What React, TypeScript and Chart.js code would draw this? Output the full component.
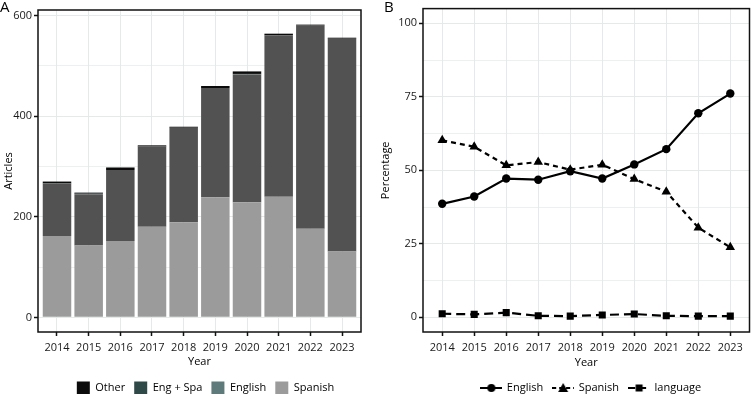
import React, { useEffect, useRef } from 'react';
import { Chart, registerables } from 'chart.js';
Chart.register(...registerables);

// ---------- data ----------
const years = [2014, 2015, 2016, 2017, 2018, 2019, 2020, 2021, 2022, 2023];
// Panel A: article counts (stacked)
const spanishCount = [162, 143, 152, 180, 189, 239, 229, 240, 176, 131];
const englishCount = [104, 102, 141, 160, 188, 217, 254, 321, 404, 423];
const engSpaCount = [1, 1, 0, 0, 0, 0, 1, 0, 0, 0];
const otherCount = [3, 2, 5, 2, 2, 4, 5, 3, 2, 2];
// Panel B: percentages
const englishPct = [38.6, 41.1, 47.2, 46.8, 49.7, 47.2, 52.0, 57.2, 69.4, 76.1];
const spanishPct = [60.2, 58.0, 51.7, 52.8, 50.2, 51.9, 47.0, 42.7, 30.5, 23.8];
const languagePct = [1.2, 1.0, 1.6, 0.5, 0.4, 0.8, 1.1, 0.5, 0.4, 0.4];

const FONT = "'Open Sans', 'DejaVu Sans', sans-serif";
const GRID = '#e4eaea';
const TXT = '#1a1a1a';

const panelBorder = {
  id: 'panelBorder',
  afterDraw(chart: any) {
    const { ctx, chartArea: a } = chart;
    ctx.save();
    ctx.strokeStyle = '#111';
    ctx.lineWidth = 1.5;
    ctx.strokeRect(a.left, a.top, a.right - a.left, a.bottom - a.top);
    ctx.restore();
  },
};

const legendCenter = (shift: number) => ({
  id: 'legendCenter',
  afterLayout(chart: any) {
    const l = chart.legend;
    const a = chart.chartArea;
    if (l && a) {
      l.left = a.left + shift;
      l.right = a.right + shift;
      l.width = a.right - a.left;
    }
  },
});

const pts = (vals: number[]) => years.map((y, i) => ({ x: y, y: vals[i] }));

function makeSymbol(dash: number[], style: string): HTMLCanvasElement {
  const c = document.createElement('canvas');
  c.width = 22;
  c.height = 12;
  const g = c.getContext('2d')!;
  g.strokeStyle = '#000';
  g.fillStyle = '#000';
  g.lineWidth = 2;
  g.setLineDash(dash);
  g.beginPath();
  g.moveTo(0, 6);
  g.lineTo(22, 6);
  g.stroke();
  g.setLineDash([]);
  g.beginPath();
  if (style === 'circle') {
    g.arc(11, 6, 4, 0, Math.PI * 2);
  } else if (style === 'triangle') {
    g.moveTo(11, 1);
    g.lineTo(16, 10);
    g.lineTo(6, 10);
    g.closePath();
  } else {
    g.rect(7.5, 2.5, 7, 7);
  }
  g.fill();
  return c;
}

function xAxis(height: number, stacked: boolean, titlePadBottom: number) {
  return {
    type: 'linear' as const,
    min: 2013.4,
    max: 2023.6,
    offset: false,
    stacked,
    grid: {
      offset: false,
      color: GRID,
      lineWidth: 1,
      drawTicks: true,
      tickLength: 4,
      tickColor: '#111',
      tickWidth: 1.5,
    },
    border: { display: false },
    ticks: {
      stepSize: 1,
      includeBounds: false,
      autoSkip: false,
      maxRotation: 0,
      padding: 5,
      color: TXT,
      font: { family: FONT, size: 11 },
      callback: (v: any) => String(v),
    },
    title: {
      display: true,
      text: 'Year',
      color: '#000',
      font: { family: FONT, size: 11 },
      padding: { top: 0, bottom: titlePadBottom },
    },
    afterFit: (s: any) => {
      s.height = height;
    },
  };
}

function yAxis(opts: {
  min: number;
  max: number;
  step: number;
  major: number;
  width: number;
  title: string;
  stacked: boolean;
}) {
  const isMajor = (v: number) => Math.abs(v % opts.major) < 1e-6;
  return {
    type: 'linear' as const,
    min: opts.min,
    max: opts.max,
    stacked: opts.stacked,
    grid: {
      color: GRID,
      lineWidth: (c: any) => (isMajor(c.tick.value) ? 1 : 0.7),
      drawTicks: true,
      tickLength: 4,
      tickColor: (c: any) => (isMajor(c.tick.value) ? '#111' : 'rgba(0,0,0,0)'),
      tickWidth: 1.5,
    },
    border: { display: false },
    ticks: {
      stepSize: opts.step,
      includeBounds: false,
      autoSkip: false,
      padding: 2,
      color: TXT,
      font: { family: FONT, size: 11 },
      callback: (v: any) => (isMajor(Number(v)) ? String(v) : ''),
    },
    title: {
      display: true,
      text: opts.title,
      color: '#000',
      font: { family: FONT, size: 11 },
      padding: { top: 2, bottom: 0 },
    },
    afterFit: (s: any) => {
      s.width = opts.width;
    },
  };
}

function BarPanel() {
  const ref = useRef<HTMLCanvasElement>(null);
  useEffect(() => {
    const legendColors: Record<string, string> = {
      Other: '#0b0b0b',
      'Eng + Spa': '#2f4848',
      English: '#5f7a7a',
      Spanish: '#9b9b9b',
    };
    const chart = new Chart(ref.current!, {
      type: 'bar',
      data: {
        datasets: [
          { label: 'Spanish', data: pts(spanishCount), backgroundColor: '#9b9b9b' },
          { label: 'English', data: pts(englishCount), backgroundColor: '#525252' },
          { label: 'Eng + Spa', data: pts(engSpaCount), backgroundColor: '#2f4848' },
          { label: 'Other', data: pts(otherCount), backgroundColor: '#0b0b0b' },
        ] as any,
      },
      options: {
        animation: false,
        responsive: false,
        devicePixelRatio: 1,
        datasets: { bar: { categoryPercentage: 1, barPercentage: 0.9, borderWidth: 0 } } as any,
        layout: { padding: { top: 10, right: 16, left: 0, bottom: -10.5 } },
        scales: {
          x: xAxis(40.5, true, 4) as any,
          y: yAxis({ min: -29.1, max: 611.1, step: 100, major: 200, width: 38, title: 'Articles', stacked: true }) as any,
        },
        plugins: {
          tooltip: { enabled: false },
          legend: {
            position: 'bottom',
            reverse: true,
            labels: {
              boxWidth: 13,
              boxHeight: 13,
              padding: 9,
              color: '#000',
              font: { family: FONT, size: 11 },
              generateLabels: (c: any) =>
                Chart.defaults.plugins.legend.labels.generateLabels(c).map((it: any) => ({
                  ...it,
                  fillStyle: legendColors[it.text],
                  strokeStyle: 'rgba(0,0,0,0)',
                  lineWidth: 0,
                })),
            },
          },
        },
      },
      plugins: [panelBorder, legendCenter(6)],
    });
    return () => chart.destroy();
  }, []);
  return <canvas ref={ref} width={377} height={394} style={{ display: 'block' }} />;
}

function LinePanel() {
  const ref = useRef<HTMLCanvasElement>(null);
  useEffect(() => {
    const symbols = [
      { text: 'English', img: makeSymbol([], 'circle') },
      { text: 'Spanish', img: makeSymbol([4, 3], 'triangle') },
      { text: 'language', img: makeSymbol([7, 4], 'rect') },
    ];
    const chart = new Chart(ref.current!, {
      type: 'line',
      data: {
        datasets: [
          {
            label: 'English',
            data: pts(englishPct),
            borderColor: '#000',
            backgroundColor: '#000',
            borderWidth: 2.2,
            pointStyle: 'circle',
            pointRadius: 4.2,
            pointBackgroundColor: '#000',
            pointBorderWidth: 0,
          },
          {
            label: 'Spanish',
            data: pts(spanishPct),
            borderColor: '#000',
            backgroundColor: '#000',
            borderWidth: 2.2,
            borderDash: [5, 4],
            pointStyle: 'triangle',
            pointRadius: 5.5,
            pointBackgroundColor: '#000',
            pointBorderWidth: 0,
          },
          {
            label: 'language',
            data: pts(languagePct),
            borderColor: '#000',
            backgroundColor: '#000',
            borderWidth: 2.2,
            borderDash: [9, 5],
            pointStyle: 'rect',
            pointRadius: 5,
            pointBackgroundColor: '#000',
            pointBorderWidth: 0,
          },
        ] as any,
      },
      options: {
        animation: false,
        responsive: false,
        devicePixelRatio: 1,
        layout: { padding: { top: 5, right: 2, left: 0, bottom: -9.5 } },
        scales: {
          x: xAxis(40.5, false, 3) as any,
          y: yAxis({ min: -5, max: 105, step: 12.5, major: 25, width: 46, title: 'Percentage', stacked: false }) as any,
        },
        plugins: {
          tooltip: { enabled: false },
          legend: {
            position: 'bottom',
            labels: {
              usePointStyle: true,
              pointStyleWidth: 20,
              padding: 10,
              color: '#000',
              font: { family: FONT, size: 11 },
              generateLabels: () =>
                symbols.map((s, i) => ({
                  text: s.text,
                  pointStyle: s.img,
                  fillStyle: '#000',
                  strokeStyle: '#000',
                  lineWidth: 0,
                  hidden: false,
                  datasetIndex: i,
                })) as any,
            },
          },
        },
      },
      plugins: [panelBorder, legendCenter(5)],
    });
    return () => chart.destroy();
  }, []);
  return <canvas ref={ref} width={378} height={394} style={{ display: 'block' }} />;
}

export default function App() {
  const label: React.CSSProperties = {
    position: 'absolute',
    top: -3,
    fontFamily: FONT,
    fontSize: 15,
    color: '#000',
    lineHeight: '18px',
  };
  return (
    <div style={{ position: 'fixed', left: 0, top: 0, width: 755, height: 394, background: '#fff', overflow: 'hidden' }}>
      <div style={{ position: 'absolute', left: 0, top: 0 }}>
        <BarPanel />
      </div>
      <div style={{ position: 'absolute', left: 377, top: 0 }}>
        <LinePanel />
      </div>
      <div style={{ ...label, left: 0 }}>A</div>
      <div style={{ ...label, left: 384 }}>B</div>
    </div>
  );
}
